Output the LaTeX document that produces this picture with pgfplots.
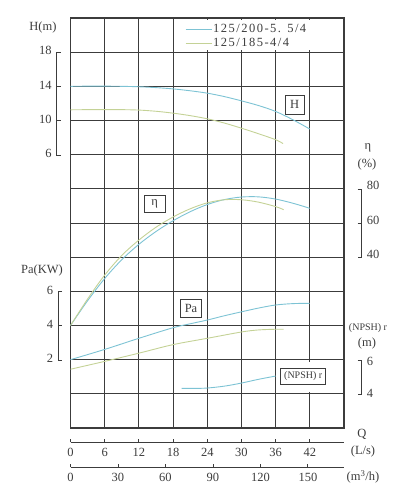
\documentclass[border=0pt]{standalone}
\usepackage{pgfplots}
\pgfplotsset{compat=1.18}
\usepackage{fontspec}
\setmainfont{Liberation Serif}
\newfontfamily\legfont[LetterSpace=12]{Liberation Serif}
\definecolor{cblue}{RGB}{125,195,212}
\definecolor{cgreen}{RGB}{196,210,150}
\definecolor{ink}{RGB}{60,60,60}

\pgfplotsset{
  panel/.style={at={(70.5bp,72bp)}, anchor=south west, scale only axis,
    width=273.5bp, height=410bp, xmin=0, xmax=48},
  curve/.style={panel, hide axis, clip=false},
  pump/.style={line width=0.9bp, smooth, tension=0.55},
}

\begin{document}
\begin{tikzpicture}[font=\fontsize{12.5bp}{15bp}\selectfont, text=ink]
\path[use as bounding box] (0,0) rectangle (406bp,500bp);

% grid
\begin{axis}[panel, ymin=0, ymax=12,
  xtick={0,6,...,48}, ytick={0,1,...,12},
  xticklabels={}, yticklabels={}, major tick length=0pt,
  grid=major, major grid style={ink, line width=0.9bp},
  axis line style={ink, line width=1.2bp}]
\fill[white] (axis cs:18.2,11.06) rectangle (axis cs:47.8,11.94);
\fill[white] (axis cs:41.8,1.06) rectangle (axis cs:42.2,1.94);
\end{axis}

% H
\begin{axis}[curve, ymin=-26, ymax=22,
  legend style={at={(0.4077,0.9554)}, anchor=west, draw=none, fill=none,
    font={\fontsize{12.5bp}{15bp}\legfont}, text=ink, row sep=0bp,
    nodes={inner sep=1bp, text height=9bp, text depth=3bp}},
  legend cell align=left,
  legend image code/.code={\draw[#1] (0bp,0bp) -- (26bp,0bp);}]
\addplot[cblue, pump] coordinates {
(0,14.0) (3,14.02) (6,14.02) (9,14.0) (12,13.95) (15,13.85) (18,13.7)
(21,13.48) (24,13.2) (27,12.8) (30,12.3) (33,11.75) (36,11.06) (39,10.1) (42,9.0)
};
\addlegendentry{125/200-5. 5/4}
\addplot[cgreen, pump] coordinates {
(0,11.25) (3,11.27) (6,11.28) (9,11.27) (12,11.22) (15,11.08) (18,10.86)
(21,10.57) (24,10.2) (27,9.7) (30,9.1) (33,8.45) (36,7.75) (37.3,7.3)
};
\addlegendentry{125/185-4/4}
\end{axis}

% eta
\begin{axis}[curve, ymin=-60, ymax=180]
\addplot[cblue, pump] coordinates {
(0,0) (3,14.5) (6,27.5) (9,38.5) (12,47.5) (15,55) (18,61.3) (21,66.6)
(24,70.8) (27,73.7) (30,75.2) (33,75.3) (36,74) (39,71.6) (42,68.6)
};
\addplot[cgreen, pump] coordinates {
(0,0) (3,15.5) (6,29.5) (9,41) (12,50) (15,57.5) (18,63.5) (21,68.3)
(24,71.8) (27,73.6) (30,73.6) (33,72.2) (36,69.6) (37.4,67.8)
};
\end{axis}

% Pa
\begin{axis}[curve, ymin=-2, ymax=22]
\addplot[cblue, pump] coordinates {
(0,2.0) (6,2.6) (12,3.25) (18,3.87) (21,4.1) (24,4.32) (27,4.57)
(30,4.8) (33,5.02) (36,5.2) (39,5.28) (42,5.3)
};
\addplot[cgreen, pump] coordinates {
(0,1.44) (6,1.9) (12,2.38) (18,2.88) (24,3.25) (30,3.62) (33,3.74)
(36,3.78) (37.4,3.78)
};
\end{axis}

% NPSHr
\begin{axis}[curve, ymin=2, ymax=26]
\addplot[cblue, pump] coordinates {
(19.5,4.32) (22,4.32) (24,4.34) (27,4.45) (30,4.63) (33,4.85) (36,5.04)
};
\end{axis}

\begin{scope}[x=1bp, y=1bp, every node/.style={inner sep=0pt}, ink, line width=0.9bp]
% left scales
\node at (43,473) {H(m)};
\draw (60.5,447.5) -- (56.7,447.5) -- (56.7,345) -- (60.5,345);
\draw (56.7,413.5) -- (60.5,413.5) (56.7,379.5) -- (60.5,379.5);
\node[anchor=east] at (52,449.3) {18};
\node[anchor=east] at (52,415) {14};
\node[anchor=east] at (52,381) {10};
\node[anchor=east] at (52,346.7) {6};

\node at (42,229.3) {Pa(KW)};
\draw (62,208.3) -- (58.5,208.3) -- (58.5,140) -- (62,140);
\draw (58.5,174.2) -- (62,174.2);
\node[anchor=east] at (53.5,209.8) {6};
\node[anchor=east] at (53.5,175.7) {4};
\node[anchor=east] at (53.5,142) {2};

% right scales
\node at (368,352) {η};
\node at (367,336) {(\%)};
\draw (357.5,310.7) -- (361,310.7) -- (361,242.3) -- (357.5,242.3);
\draw (357.5,276.7) -- (361,276.7);
\node[anchor=west] at (366.5,314.3) {80};
\node[anchor=west] at (366.5,280) {60};
\node[anchor=west] at (366.5,246) {40};

\node[font=\fontsize{10bp}{12bp}\selectfont] at (368,171.7) {(NPSH) r};
\node at (367,156.7) {(m)};
\draw (357.5,140) -- (361,140) -- (361,105.7) -- (357.5,105.7);
\node[anchor=west] at (366.5,138.5) {6};
\node[anchor=west] at (366.5,106.5) {4};

% flow scales
\node at (362,66) {Q};
\draw (70.5,57.7) -- (344,57.7);
\foreach \q in {0,6,...,42} {
  \draw ({70.5+\q*5.698},57.7) -- ++(0,3.5);
  \node at ({70.5+\q*5.698},48) {\q};
}
\node at (363,48.3) {(L/s)};
\draw (70.5,32.7) -- (344,32.7);
\foreach \m in {0,30,...,150} {
  \draw ({70.5+\m*1.5828},32.7) -- ++(0,3.5);
  \node at ({70.5+\m*1.5828},22.3) {\m};
}
\node at (363,23.3) {(m\textsuperscript{3}/h)};

% curve tags
\node[draw, fill=white, minimum width=19bp, minimum height=19bp] at (294.7,395.5) {H};
\node[draw, fill=white, minimum width=21bp, minimum height=17bp] at (154.7,296.3) {η};
\node[draw, fill=white, minimum width=21bp, minimum height=18bp] at (191,191.2) {Pa};
\node[draw, fill=white, minimum width=45bp, minimum height=16bp,
  font=\fontsize{10bp}{12bp}\selectfont] at (303.2,123.7) {(NPSH) r};
\end{scope}
\end{tikzpicture}
\end{document}
